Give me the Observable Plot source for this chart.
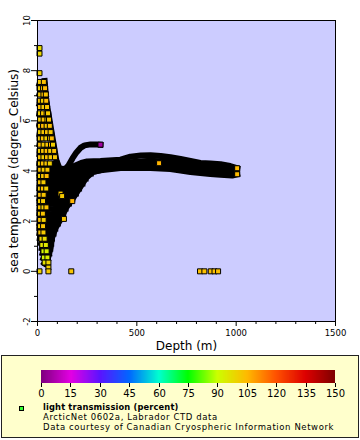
<!DOCTYPE html>
<html>
<head>
<meta charset="utf-8">
<script src="https://cdn.jsdelivr.net/npm/d3@7"></script>
<script src="https://cdn.jsdelivr.net/npm/@observablehq/plot@0.6"></script>
<style>
  body { margin: 0; background: #ffffff; font-family: "DejaVu Sans", sans-serif; }
  #wrap { position: relative; width: 360px; height: 440px; overflow: hidden; background: #ffffff; }
  #chart { position: absolute; left: 0; top: 0; }
  #legendBox { position: absolute; left: 1px; top: 355px; width: 358px; height: 83px; box-sizing: border-box;
               background: #ffffcc; border: 1px solid #222; }
  #legendText { position: absolute; left: 0; top: 354px; }
  #legendText text { font-family: "DejaVu Sans", sans-serif; font-size: 8.5px; letter-spacing: 0.6px; fill: #000; }
  #legendText text.bold { font-size: 8.3px; letter-spacing: 0.15px; font-weight: bold; }
</style>
</head>
<body>
<div id="wrap">
  <div id="chart"></div>
  <div id="legendBox"></div>
  <div id="rampHolder"></div>
  <svg id="legendText" width="360" height="86"></svg>
</div>
<script>
// ---------- texts ----------
const xTitle = "Depth (m)";
const yTitle = "sea temperature (degree_Celsius)";
const legendVariable = "light transmission (percent)";
const legendLine2 = "ArcticNet 0602a, Labrador CTD data";
const legendLine3 = "Data courtesy of Canadian Cryospheric Information Network";

// ---------- axis ticks ----------
const xMajor = [0, 500, 1000, 1500];
const xMinor = [100, 200, 300, 400, 600, 700, 800, 900, 1100, 1200, 1300, 1400];
const yMajor = [-2, 0, 2, 4, 6, 8, 10];
const yMinor = [-1, 1, 3, 5, 7, 9];

// ---------- colour bar (light transmission, percent) ----------
const legendTicks = [0, 15, 30, 45, 60, 75, 90, 105, 120, 135, 150];
const legendColors = ["#800080", "#e400e4", "#5a14ff", "#0068ff", "#00ffd0", "#00ff00",
                      "#ccff00", "#ffbb00", "#ff5200", "#de0000", "#800000"];

// ---------- dense CTD profiles (depth m, temperature degC) where markers overlap into black ----------
const profileDepths = [
  [10, 24, 36], [10, 26, 42], [10, 28, 47], [10, 32, 55], [10, 36, 62],
  [10, 40, 70], [10, 44, 79], [10, 48, 88], [10, 52, 96],
  [36, 44, 61, 78, 95, 110, 135, 160],
  [35, 42, 48], [30, 42, 52], [26, 42, 58], [22, 42, 63], [18, 44, 68],
  [12, 42, 72], [10, 44, 80], [10, 48, 89], [10, 55, 102], [10, 62, 116],
  [10, 68, 129], [10, 75, 141], [10, 85, 158], [10, 92, 175], [10, 100, 193],
  [10, 110, 209], [10, 118, 226], [10, 125, 242], [10, 135, 268], [10, 150, 300],
  [40, 53, 66, 73, 91, 120, 143, 179, 212, 244, 280, 317],
  [120, 140, 156, 176, 196, 216, 237, 267, 300, 317],
  [150, 175, 191, 220, 250, 317, 418, 468, 520, 569, 620, 669, 720, 770, 820, 870, 921, 970, 1005],
  [237, 270, 317, 350, 418, 569, 669, 720, 770, 820, 870, 921, 980, 1005]
];
const profileTemps = [
  [7.47, 7.43, 7.45], [7.07, 7.03, 7.05], [6.67, 6.63, 6.65], [6.27, 6.23, 6.25], [5.87, 5.83, 5.85],
  [5.47, 5.43, 5.45], [5.07, 5.03, 5.05], [4.67, 4.63, 4.65], [4.32, 4.28, 4.30],
  [7.59, 6.81, 6.01, 5.22, 4.42, 4.12, 3.98, 3.95],
  [0.32, 0.28, 0.30], [0.52, 0.48, 0.50], [0.72, 0.68, 0.70], [0.92, 0.88, 0.90], [1.12, 1.08, 1.10],
  [1.32, 1.28, 1.30], [1.52, 1.48, 1.50], [1.72, 1.68, 1.70], [1.92, 1.88, 1.90], [2.12, 2.08, 2.10],
  [2.32, 2.28, 2.30], [2.52, 2.48, 2.50], [2.72, 2.68, 2.70], [2.92, 2.88, 2.90], [3.12, 3.08, 3.10],
  [3.32, 3.28, 3.30], [3.52, 3.48, 3.50], [3.72, 3.68, 3.70], [3.92, 3.88, 3.90], [4.12, 4.08, 4.10],
  [0.30, 0.53, 0.93, 1.33, 1.73, 2.13, 2.52, 2.92, 3.32, 3.72, 3.97, 4.03],
  [4.00, 4.08, 4.22, 4.50, 4.74, 4.92, 5.02, 5.06, 5.06, 5.05],
  [4.05, 4.15, 4.22, 4.32, 4.38, 4.40, 4.45, 4.57, 4.62, 4.63, 4.60, 4.55, 4.48, 4.40, 4.32, 4.30, 4.27, 4.20, 4.11],
  [3.79, 3.95, 4.03, 4.06, 4.12, 4.12, 4.08, 4.02, 3.96, 3.92, 3.88, 3.85, 3.82, 3.87]
];
// core of the deep band
const coreDepth = [200, 250, 317, 418, 569, 669, 770, 870, 970, 1000];
const coreTemp = [4.05, 4.15, 4.22, 4.28, 4.37, 4.32, 4.18, 4.08, 4.00, 3.99];

// ---------- individually visible markers (rows of equal temperature) ----------
const squareRowTemp = [8.90, 8.68, 7.90, 7.55, 7.30, 7.05, 6.80, 6.55, 6.30, 6.05, 5.80, 5.55, 5.30, 5.05,
  4.80, 4.55, 4.30, 4.05, 3.80, 3.55, 3.30, 3.05, 2.80, 2.55, 2.30, 2.05, 1.80, 1.55, 1.30, 1.05,
  0.80, 0.55, 0.35, 0.15, 0.00];
const squareRowDepths = [[10], [10], [10], [12, 32], [10, 28, 38], [13, 30, 42], [10, 27, 44], [12, 30, 48],
  [10, 28, 46, 53], [13, 31, 50, 58], [10, 28, 46, 62], [12, 30, 48, 66], [10, 27, 45, 63, 72],
  [13, 31, 50, 68, 78], [10, 28, 46, 64, 84], [12, 30, 48, 66, 88], [10, 27, 45, 62], [13, 31, 50],
  [10, 28, 46], [12, 30], [10, 27, 44], [13, 31], [10, 28], [12, 30, 45], [10, 27], [13, 31], [10, 28],
  [14, 30], [20, 36], [24, 42], [30, 46], [32, 50], [36, 55], [55],
  [10, 55, 170, 818, 840, 872, 891, 909]];
const squareRowTrans = [[98], [99], [100], [102, 104], [101, 103, 105], [102, 104, 103], [103, 101, 105],
  [104, 102, 103], [101, 103, 105, 102], [102, 104, 101, 103], [103, 105, 102, 104], [101, 103, 104, 102],
  [102, 104, 101, 103, 105], [104, 102, 103, 105, 101], [101, 103, 105, 102, 104], [103, 101, 104, 102, 103],
  [102, 104, 103, 101], [104, 102, 103], [101, 103, 105], [103, 102], [102, 104, 101], [104, 103],
  [101, 102], [103, 101, 104], [102, 103], [104, 101], [101, 103], [103, 102], [100, 98], [96, 95],
  [92, 93], [92, 94], [97, 100], [101], [100, 102, 103, 104, 104, 104, 104, 104]];

// partly hidden marker
const hiddenDepth = [27];
const hiddenTemp = [1.12];
const hiddenTrans = [76];

// markers visible inside the dense cloud
const spotDepth = [116, 124, 175, 133];
const spotTemp = [3.10, 3.00, 2.80, 2.09];
const spotTrans = [103, 102, 106, 103];

// last samples of casts (drawn on top)
const endDepth = [317, 612, 1005, 1005];
const endTemp = [5.05, 4.31, 4.11, 3.87];
const endTrans = [5, 106, 105, 105];

// ---------- tables ----------
const profileRows = profileDepths.flatMap((ds, i) => ds.map((d, j) => ({cast: i, depth: d, temp: profileTemps[i][j]})));
const coreRows = coreDepth.map((d, i) => ({depth: d, temp: coreTemp[i]}));
const squareRows = squareRowTemp.flatMap((t, i) => squareRowDepths[i].map((d, j) => ({depth: d, temp: t, trans: squareRowTrans[i][j]})));
const hiddenRows = hiddenDepth.map((d, i) => ({depth: d, temp: hiddenTemp[i], trans: hiddenTrans[i]}));
const spotRows = spotDepth.map((d, i) => ({depth: d, temp: spotTemp[i], trans: spotTrans[i]}));
const endRows = endDepth.map((d, i) => ({depth: d, temp: endTemp[i], trans: endTrans[i]}));

const FONT = "DejaVu Sans";
const sq = {x: "depth", y: "temp", fill: "trans", symbol: "square", r: 2.82, stroke: "black", strokeWidth: 1};

const chart = Plot.plot({
  width: 360,
  height: 354,
  marginLeft: 37,
  marginRight: 25,
  marginTop: 20,
  marginBottom: 33,
  x: {domain: [0, 1500], label: null},
  y: {domain: [-2, 10], label: null},
  color: {type: "linear", domain: legendTicks, range: legendColors, interpolate: "rgb"},
  style: {fontFamily: FONT, background: "white", color: "black", overflow: "visible"},
  marks: [
    Plot.frame({fill: "#ccccff"}),
    Plot.dot(hiddenRows, sq),
    Plot.line(profileRows, {x: "depth", y: "temp", z: "cast", stroke: "black", strokeWidth: 6,
      strokeLinecap: "square", strokeLinejoin: "round"}),
    Plot.line(coreRows, {x: "depth", y: "temp", stroke: "black", strokeWidth: 8,
      strokeLinecap: "square", strokeLinejoin: "round"}),
    Plot.dot(squareRows, sq),
    Plot.dot(spotRows, sq),
    Plot.dot(endRows, sq),
    Plot.frame({stroke: "black", strokeWidth: 1}),
    Plot.axisX(xMajor, {tickSize: 5, tickFormat: () => "", label: null}),
    Plot.axisX(xMinor, {tickSize: 3, tickFormat: () => "", label: null}),
    Plot.axisY(yMajor, {tickSize: 6, tickFormat: () => "", label: null}),
    Plot.axisY(yMinor, {tickSize: 3, tickFormat: () => "", label: null}),
    Plot.text(xMajor, {x: d => d, text: d => String(d), frameAnchor: "bottom", dy: 12,
      lineAnchor: "middle", fontSize: 8.5, fill: "black"}),
    Plot.text(yMajor, {y: d => d, text: d => String(d), frameAnchor: "left", dx: -10.5, rotate: -90,
      textAnchor: "middle", lineAnchor: "middle", fontSize: 8.5, fill: "black"}),
    Plot.text([xTitle], {text: d => d, frameAnchor: "bottom", dy: 25, lineAnchor: "middle",
      fontSize: 12, fill: "black"}),
    Plot.text([yTitle], {text: d => d, frameAnchor: "left", dx: -23, rotate: -90,
      textAnchor: "middle", lineAnchor: "middle", fontSize: 12, fill: "black"})
  ]
});
document.getElementById("chart").appendChild(chart);

// colour bar
const ramp = chart.legend("color", {
  width: 360, height: 34, marginLeft: 41, marginRight: 25, marginTop: 0, marginBottom: 21,
  tickSize: 4, ticks: legendTicks, tickFormat: d => String(d), label: null,
  style: {fontSize: "10px", fontFamily: FONT, color: "black", background: "transparent", overflow: "visible"}
});
ramp.style.position = "absolute";
ramp.style.left = "0px";
ramp.style.top = "370px";
ramp.querySelectorAll(".tick line").forEach(l => l.setAttribute("y1", "0"));
document.getElementById("rampHolder").appendChild(ramp);

// legend texts
const ns = "http://www.w3.org/2000/svg";
const lt = document.getElementById("legendText");
const mk = document.createElementNS(ns, "rect");
mk.setAttribute("x", "19.5"); mk.setAttribute("y", "52.5");
mk.setAttribute("width", "4"); mk.setAttribute("height", "4");
mk.setAttribute("fill", "#33ff33"); mk.setAttribute("stroke", "#000");
lt.appendChild(mk);
[[legendVariable, 56.4, "bold"], [legendLine2, 66.3, ""], [legendLine3, 76.2, ""]].forEach(([s, y, c]) => {
  const t = document.createElementNS(ns, "text");
  t.setAttribute("x", "43"); t.setAttribute("y", String(y));
  if (c) t.setAttribute("class", c);
  t.textContent = s;
  lt.appendChild(t);
});
</script>
</body>
</html>
